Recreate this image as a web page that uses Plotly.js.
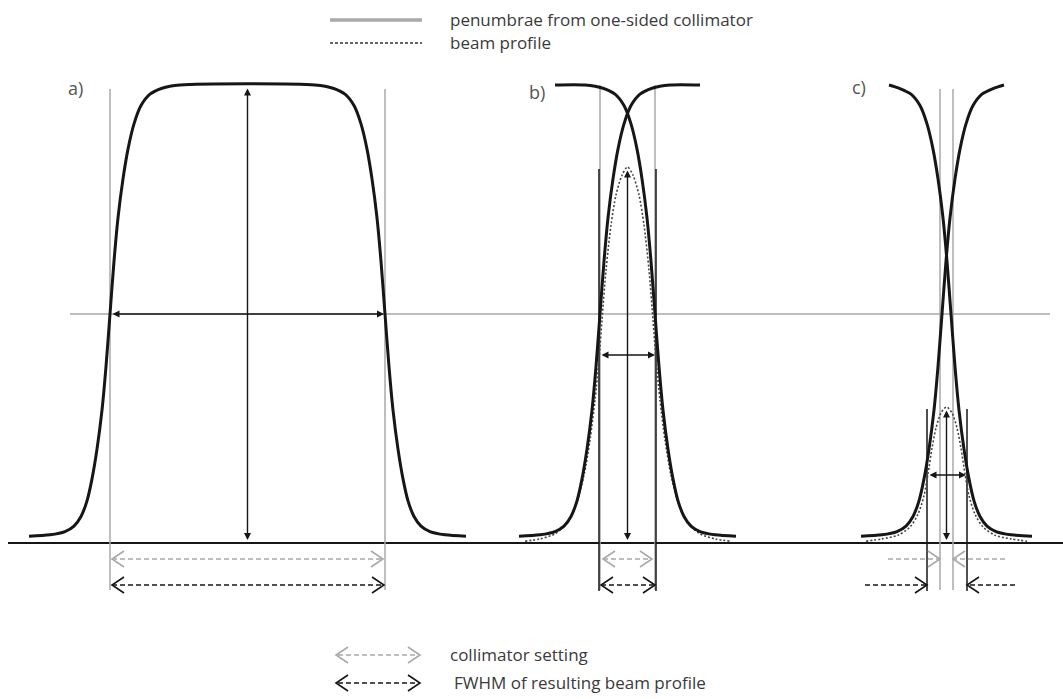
<!DOCTYPE html>
<html>
<head>
<meta charset="utf-8">
<script src="https://cdn.plot.ly/plotly-3.0.1.min.js"></script>
<style>html,body{margin:0;padding:0;background:#fff;}#chart{width:1063px;height:699px;}</style>
</head>
<body>
<div id="chart"></div>
<script>
// ---------- DATA (position along profile, relative dose) ----------
// a) wide field: single profile
const aProfileX = [29,50,65,74,81,87,92,97,102,106,110,114,118,123,128,134,141,150,162,180,
                   315,333,345,354,361,367,372,377,381,385,389,393,398,403,408,414,421,430,445,466];
const aProfileV = [0.015,0.018,0.025,0.037,0.058,0.092,0.140,0.205,0.290,0.385,0.500,0.615,0.710,0.795,0.860,0.915,0.955,0.980,0.993,1.000,
                   1.000,0.993,0.980,0.955,0.915,0.860,0.795,0.710,0.615,0.500,0.385,0.290,0.205,0.140,0.092,0.058,0.037,0.025,0.018,0.015];
// b) small field: two one-sided penumbrae + resulting beam profile
const bRiseX = [519,540,555,564,571,577,582,587,592,596,600,604,608,613,618,624,631,640,652,670,700];
const bRiseV = [0.015,0.018,0.025,0.037,0.058,0.092,0.140,0.205,0.290,0.385,0.500,0.615,0.710,0.795,0.860,0.915,0.955,0.980,0.993,1.000,1.000];
const bFallX = [555,585,603,615,624,631,637,642,647,651,655,659,663,668,673,678,684,691,700,715,736];
const bFallV = [1.000,1.000,0.993,0.980,0.955,0.915,0.860,0.795,0.710,0.615,0.500,0.385,0.290,0.205,0.140,0.092,0.058,0.037,0.025,0.018,0.015];
const bBeamX = [525,540,555,567,576,584,590,595,599,602,606,611,616,622,627.5,633,639,644,649,653,656,660,665,671,679,688,700,715,730];
const bBeamV = [0.004,0.009,0.020,0.044,0.083,0.148,0.225,0.312,0.400,0.487,0.596,0.694,0.760,0.803,0.821,0.803,0.760,0.694,0.596,0.487,0.400,0.312,0.225,0.148,0.083,0.044,0.020,0.009,0.004];
// c) very small field
const cRiseX = [861,882,897,906,913,919,924,929,934,938,942,946,950,955,960,966,973,982,994,1004];
const cRiseV = [0.015,0.018,0.025,0.037,0.058,0.092,0.140,0.205,0.290,0.385,0.500,0.615,0.710,0.795,0.860,0.915,0.955,0.980,0.993,1.000];
const cFallX = [889,899,911,920,927,933,938,943,947,951,955,959,964,969,974,980,987,996,1011,1032];
const cFallV = [1.000,0.993,0.980,0.955,0.915,0.860,0.795,0.710,0.615,0.500,0.385,0.290,0.205,0.140,0.092,0.058,0.037,0.025,0.018,0.015];
const cBeamX = [866,882,898,910,918,924,928,932,936,941,946.5,952,957,961,965,969,975,983,995,1011,1027];
const cBeamV = [0.004,0.009,0.017,0.035,0.063,0.103,0.151,0.207,0.251,0.284,0.297,0.284,0.251,0.207,0.151,0.103,0.063,0.035,0.017,0.009,0.004];

// per panel: label, peak position, peak dose, collimator edges, FWHM edges
const panelLabels = ["a)", "b)", "c)"];
const peakX = [247.5, 627.5, 946.5];
const peakV = [1.0, 0.821, 0.297];
const collimatorEdges = [[110, 385], [600, 655], [940, 953]];
const fwhmEdges = [[110, 385], [599, 656], [927, 967]];

const legendTop = ["penumbrae from one-sided collimator", "beam profile"];
const legendBottom = ["collimator setting", "FWHM of resulting beam profile"];

// ---------- DRAWING ----------
const W = 1063, H = 699, BASE = 543, UNIT = 458;   // layout: pixel row of zero dose, pixels per unit dose
const py = p => (BASE - p) / UNIT;                  // pixel row -> dose units (layout helper)
const PX = 1 / UNIT;

const BLACK = '#161616', GRAY = '#a9a9a9', DGRAY = '#3a3a3a';
const traces = [];
function line(x, y, color, width, dash, shape) {
  traces.push({x, y, type: 'scatter', mode: 'lines', hoverinfo: 'skip',
    line: {color, width, dash: dash || 'solid', shape: shape || 'linear', smoothing: 0.8}});
}
function chevron(xt, yt, dir, color) {      // open arrowhead, dir=+1 points right
  line([xt - dir * 12, xt, xt - dir * 12], [yt + 8 * PX, yt, yt - 8 * PX], color, 1.6);
}

// reference lines
line([8, W], [0, 0], BLACK, 2);
line([70, 1050], [0.5, 0.5], GRAY, 1.5);

// collimator (gray) vertical lines
collimatorEdges.forEach((e, i) => {
  const top = i === 1 ? py(85) : py(89);
  e.forEach(x => line([x, x], [top, py(590)], GRAY, 1.5));
});
// FWHM (black) vertical lines in b and c
[1, 2].forEach(i => fwhmEdges[i].forEach(x => line([x, x], [peakV[i] - 2 * PX, py(591)], BLACK, 1.5)));

// beam profiles (dashed)
line(bBeamX, bBeamV, '#444', 1.6, '2px,2px', 'spline');
line(cBeamX, cBeamV, '#444', 1.6, '2px,2px', 'spline');

// penumbra curves
line(aProfileX, aProfileV, BLACK, 3, null, 'spline');
line(bRiseX, bRiseV, BLACK, 3, null, 'spline');
line(bFallX, bFallV, BLACK, 3, null, 'spline');
line(cRiseX, cRiseV, BLACK, 3, null, 'spline');
line(cFallX, cFallV, BLACK, 3, null, 'spline');

// dashed dimension arrows below the baseline
const yCol = py(559), yFw = py(585);
[0, 1].forEach(i => {
  const c = collimatorEdges[i], f = fwhmEdges[i];
  const ci = i === 0 ? 2 : 3;
  line([c[0] + ci, c[1] - ci], [yCol, yCol], GRAY, 1.5, '5px,3px');
  chevron(c[0] + ci, yCol, -1, GRAY); chevron(c[1] - ci, yCol, 1, GRAY);
  line([f[0] + 2, f[1] - 1], [yFw, yFw], BLACK, 1.5, '5px,3px');
  chevron(f[0] + 2, yFw, -1, BLACK); chevron(f[1] - 1, yFw, 1, BLACK);
});
{ // panel c: arrows from outside pointing inward
  const c = collimatorEdges[2], f = fwhmEdges[2];
  line([c[0] - 52, c[0]], [yCol, yCol], GRAY, 1.5, '5px,3px'); chevron(c[0], yCol, 1, GRAY);
  line([c[1] + 52, c[1]], [yCol, yCol], GRAY, 1.5, '5px,3px'); chevron(c[1], yCol, -1, GRAY);
  line([f[0] - 62, f[0]], [yFw, yFw], BLACK, 1.5, '5px,3px'); chevron(f[0], yFw, 1, BLACK);
  line([f[1] + 48, f[1]], [yFw, yFw], BLACK, 1.5, '5px,3px'); chevron(f[1], yFw, -1, BLACK);
}

// legend samples
line([330, 422], [py(20), py(20)], GRAY, 3.5);
line([330, 422], [py(43), py(43)], '#333', 1.5, '3px,2px');
line([338, 418], [py(655), py(655)], GRAY, 1.5, '5px,3px');
chevron(336, py(655), -1, GRAY); chevron(420, py(655), 1, GRAY);
line([338, 418], [py(683), py(683)], BLACK, 1.5, '5px,3px');
chevron(336, py(683), -1, BLACK); chevron(420, py(683), 1, BLACK);

// solid two-headed arrows
const annotations = [];
function dbl(x0, y0, x1, y1) {
  annotations.push({x: x1, y: y1, ax: x0, ay: y0, xref: 'x', yref: 'y', axref: 'x', ayref: 'y',
    text: '', showarrow: true, arrowhead: 2, startarrowhead: 2, arrowside: 'end+start',
    arrowsize: 1, startarrowsize: 1, arrowwidth: 1.4, arrowcolor: BLACK, standoff: 0, startstandoff: 0});
}
peakX.forEach((x, i) => {
  dbl(x, peakV[i] - 2 * PX, x, 3 * PX);
  dbl(fwhmEdges[i][0] + 1, peakV[i] / 2, fwhmEdges[i][1] - 1, peakV[i] / 2);
});

// texts
const font = {family: 'Open Sans, DejaVu Sans, sans-serif', size: 17, color: DGRAY};
function txt(x, y, t, f) {
  annotations.push({x, y, xref: 'x', yref: 'y', text: t, showarrow: false, xanchor: 'left', yanchor: 'middle', font: f || font});
}
const labelPos = [[66, py(88)], [527, py(92)], [850, py(87)]];
panelLabels.forEach((l, i) => txt(labelPos[i][0], labelPos[i][1], l, {family: font.family, size: 18, color: '#555'}));
txt(448, py(19), legendTop[0]);
txt(448, py(42), legendTop[1]);
txt(448, py(654), legendBottom[0]);
txt(452, py(682), legendBottom[1]);

Plotly.newPlot('chart', traces, {
  width: W, height: H, margin: {l: 0, r: 0, t: 0, b: 0},
  paper_bgcolor: '#fff', plot_bgcolor: '#fff', showlegend: false,
  xaxis: {range: [0, W], visible: false, fixedrange: true},
  yaxis: {range: [py(H), py(0)], visible: false, fixedrange: true},
  annotations
}, {displayModeBar: false, staticPlot: true});
</script>
</body>
</html>
